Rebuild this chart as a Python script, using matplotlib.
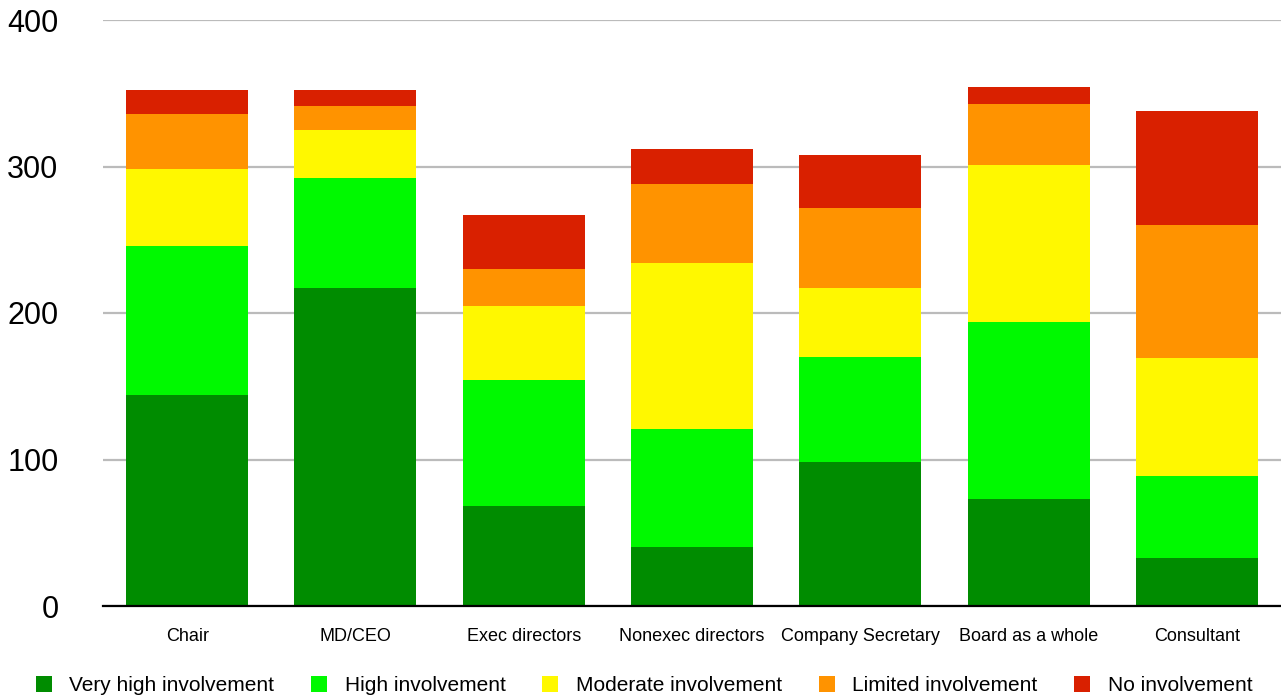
import numpy as np
import matplotlib
matplotlib.use("Agg")
import matplotlib.pyplot as plt
from matplotlib.lines import Line2D

plt.rcParams["font.family"] = ["Liberation Sans", "DejaVu Sans"]

roles = ["Chair", "MD/CEO", "Exec directors", "Nonexec directors",
         "Company Secretary", "Board as a whole", "Consultant"]

levels = ["Very high involvement", "High involvement", "Moderate involvement",
          "Limited involvement", "No involvement"]

very_high = [144, 217, 68, 40, 98, 73, 33]
high = [102, 75, 86, 81, 72, 121, 56]
moderate = [52, 33, 51, 113, 47, 107, 80]
limited = [38, 16, 25, 54, 55, 42, 91]
none_ = [16, 11, 37, 24, 36, 11, 78]

colors = ["#008C00", "#00F900", "#FFF800", "#FF9300", "#D92000"]
yticks = [0, 100, 200, 300, 400]


def main():
    W, H = 1281, 698
    fig = plt.figure(figsize=(W / 100, H / 100), dpi=100)
    ax = fig.add_axes([103 / W, 1 - 606 / H, 1178 / W, 586 / H])

    series = [very_high, high, moderate, limited, none_]
    x = np.arange(len(roles))
    bottom = np.zeros(len(roles))
    for vals, col, lab in zip(series, colors, levels):
        ax.bar(x, vals, width=0.725, bottom=bottom, color=col, label=lab,
               linewidth=0, zorder=2)
        bottom += np.array(vals)

    ax.set_xlim(-0.5, len(roles) - 0.5)
    ax.set_ylim(0, 400)
    ax.set_yticks(yticks)
    ax.set_xticks(x)
    ax.set_xticklabels(roles)

    ax.tick_params(axis="y", length=0, pad=32, labelsize=22)
    ax.tick_params(axis="x", length=0, pad=16, labelsize=13)

    for s in ["left", "top", "right"]:
        ax.spines[s].set_visible(False)
    ax.spines["bottom"].set_linewidth(1.6)
    ax.spines["bottom"].set_color("black")
    ax.spines["bottom"].set_zorder(3)

    ax.yaxis.grid(True, color="#BBBBBB", linewidth=1.6)
    ax.set_axisbelow(True)

    handles = [Line2D([], [], marker="s", linestyle="none", markersize=12.2,
                      markerfacecolor=c, markeredgewidth=0) for c in colors]
    fig.legend(handles, levels, loc="center left",
               bbox_to_anchor=(35 / W, 1 - 685.5 / H), ncol=5, frameon=False,
               fontsize=15, handlelength=0.82, handletextpad=0.82,
               columnspacing=1.74, borderpad=0, borderaxespad=0)

    fig.savefig("out.png", dpi=100)


if __name__ == "__main__":
    main()
